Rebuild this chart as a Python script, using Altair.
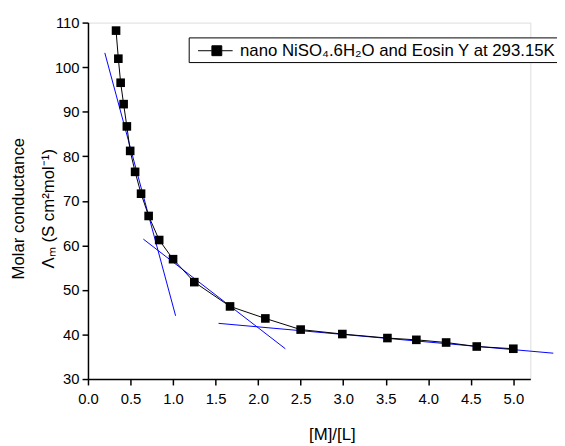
import altair as alt
import pandas as pd

# measured data points
ml_ratio = [0.33, 0.357, 0.384, 0.419, 0.457, 0.496, 0.554, 0.624, 0.713, 0.837,
            1.0, 1.25, 1.67, 2.085, 2.50, 2.99, 3.52, 3.86, 4.21, 4.57, 5.0]
molar_cond = [108.2, 101.9, 96.5, 91.7, 86.7, 81.2, 76.5, 71.6, 66.6, 61.2,
              56.9, 51.75, 46.3, 43.6, 41.1, 40.1, 39.2, 38.8, 38.2, 37.3, 36.8]

# tangent lines (start x, start y, end x, end y)
tan_x1 = [0.198, 0.651, 1.535]
tan_y1 = [103.2, 61.4, 42.5]
tan_x2 = [1.03, 2.32, 5.47]
tan_y2 = [44.2, 36.8, 35.8]

series_name = "nano NiSO\u2084.6H\u2082O and Eosin Y at 293.15K"

x_ticks = [i * 0.25 for i in range(0, 21)]
y_ticks = list(range(30, 111, 5))

FONT = "Liberation Sans"

df = pd.DataFrame({"x": ml_ratio, "y": molar_cond, "series": series_name})
tan = pd.DataFrame({"x": tan_x1, "y": tan_y1, "x2": tan_x2, "y2": tan_y2})

xscale = alt.Scale(domain=[0, 5.2], nice=False, zero=False)
yscale = alt.Scale(domain=[30, 110], nice=False, zero=False)

xaxis = alt.Axis(
    values=x_ticks,
    labelExpr="round(datum.value*2) == datum.value*2 ? format(datum.value, '.1f') : ''",
    tickSize={"condition": {"test": "round(datum.value*2) == datum.value*2", "value": 6}, "value": 3},
    grid=False, domainColor="black", domainWidth=1.5, tickColor="black", tickWidth=1.5,
    labelFont=FONT, labelFontSize=15, labelColor="black", labelPadding=7,
    title="[M]/[L]", titleFont=FONT, titleFontSize=17, titleFontWeight="normal",
    titleColor="black", titleX=247, titleY=61, titleBaseline="alphabetic",
    labelFlush=False, labelOverlap=False,
)
yaxis = alt.Axis(
    values=y_ticks,
    labelExpr="datum.value % 10 == 0 ? format(datum.value, 'd') : ''",
    tickSize={"condition": {"test": "datum.value % 10 == 0", "value": 6}, "value": 3},
    grid=False, domainColor="black", domainWidth=1.5, tickColor="black", tickWidth=1.5,
    labelFont=FONT, labelFontSize=15, labelColor="black", labelPadding=3,
    title=["Molar conductance", "\u039b\u2098 (S cm\u00b2mol\u207b\u00b9)"],
    titleFont=FONT, titleFontSize=17, titleFontWeight="normal", titleColor="black",
    titleLineHeight=30, titleX=-61, titleY=188, titleAngle=270,
    labelFlush=False, labelOverlap=False,
)

line = alt.Chart(df).mark_line(color="black", strokeWidth=1).encode(
    x=alt.X("x:Q", scale=xscale, axis=xaxis),
    y=alt.Y("y:Q", scale=yscale, axis=yaxis),
)

points = alt.Chart(df).mark_square(size=76, opacity=1, filled=True).encode(
    x="x:Q",
    y="y:Q",
    color=alt.Color(
        "series:N",
        scale=alt.Scale(range=["black"]),
        legend=alt.Legend(
            title=None, orient="none", legendX=102, legendY=15,
            symbolType="M-0.4,0H1M2,0H3.1M1,-0.5H2V0.5H1Z",
            symbolSize=400, symbolStrokeWidth=1, symbolStrokeColor="black",
            symbolFillColor="black",
            labelFont=FONT, labelFontSize=17, labelColor="black", labelOffset=28,
            labelLimit=500,
            strokeColor="black", fillColor="white", padding=3,
        ),
    ),
)

tangents = alt.Chart(tan).mark_rule(color="#0000ff", strokeWidth=1, clip=False).encode(
    x="x:Q", y="y:Q", x2="x2:Q", y2="y2:Q"
)

chart = alt.layer(tangents, line, points).properties(
    width=448, height=361,
    autosize=alt.AutoSizeParams(type="none"),
    padding={"left": 81, "top": 12, "right": 27, "bottom": 62},
).configure_view(stroke=None).configure(background="white")

chart.save("out.html", embed_options={"renderer": "svg", "actions": False})
